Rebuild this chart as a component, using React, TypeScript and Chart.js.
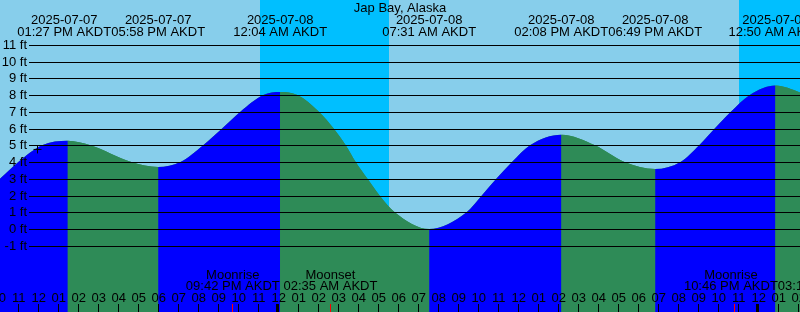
import React, { useEffect, useRef } from 'react';
import { Chart, registerables } from 'chart.js';

Chart.register(...registerables);

// ---- data (hours relative to 2025-07-08 00:00 AKDT, heights in feet) ----
const chartTitle = 'Jap Bay, Alaska';

const tideHours = [
  -14.24, -13.94, -13.025, -11.84, -10.55, -9.42, -7.37, -6.0333,
  -4.915, -3.78, -2.835, -1.92, -0.775, 0.0667, 0.93, 2.005, 2.745,
  3.345, 3.845, 4.435, 5.04, 5.795, 7.5167, 9.39, 10.15, 10.875,
  11.66, 12.56, 14.1333, 15.81, 17.285, 18.8167, 20.085, 21.02,
  21.795, 22.605, 23.55, 24.8333, 26.06, 26.66,
];
const tideFeet = [
  2.67, 3.0, 4.0, 5.0, 5.27, 5.0, 4.0, 3.7,
  4.0, 5.0, 6.0, 7.0, 8.0, 8.18, 8.0, 7.0, 6.0,
  5.0, 4.0, 3.0, 2.0, 1.0, 0.0, 1.0, 2.0, 3.0,
  4.0, 5.0, 5.63, 5.0, 4.0, 3.58, 4.0, 5.0,
  6.0, 7.0, 8.0, 8.56, 8.15, 7.85,
];

const extremeHours = [-10.55, -6.0333, 0.0667, 7.5167, 14.1333, 18.8167, 24.8333];
const extremeDates = ['2025-07-07', '2025-07-07', '2025-07-08', '2025-07-08', '2025-07-08', '2025-07-08', '2025-07-09'];
const extremeTimes = ['01:27 PM AKDT', '05:58 PM AKDT', '12:04 AM AKDT', '07:31 AM AKDT', '02:08 PM AKDT', '06:49 PM AKDT', '12:50 AM AKDT'];

const moonHours = [-2.3, 2.5833, 22.7667, 27.3];
const moonEvents = ['Moonrise', 'Moonset', 'Moonrise', 'Moonset'];
const moonTimes = ['09:42 PM AKDT', '02:35 AM AKDT', '10:46 PM AKDT', '03:18 AM AKDT'];

const nightStarts = [-0.93, 23.02];
const nightEnds = [5.52, 29.5];

const nowHours = [-12.065];
const nowFeet = [4.75];

const yTickValues = [-1, 0, 1, 2, 3, 4, 5, 6, 7, 8, 9, 10, 11];
const yTickLabels = ['-1 ft', '0 ft', '1 ft', '2 ft', '3 ft', '4 ft', '5 ft', '6 ft', '7 ft', '8 ft', '9 ft', '10 ft', '11 ft'];
const hourTickFirst = -14;
const hourTickLast = 26;

// ---- style ----
const X_MIN = -13.94;
const X_MAX = 26.06;
const Y_MAX = 229 / 16.75;
const Y_MIN = Y_MAX - 312 / 16.75;
const RISING = '#0000ff';
const FALLING = '#2e8b57';
const DAY = '#87ceeb';
const NIGHT = '#00bfff';
const FONT = '13px "Liberation Sans", Arial, sans-serif';

function pushLeft(centers: number[], widths: number[]): number[] {
  const out = centers.slice();
  for (let i = out.length - 2; i >= 0; i--) {
    const right = out[i] + widths[i] / 2;
    const nextLeft = out[i + 1] - widths[i + 1] / 2;
    if (right > nextLeft) out[i] -= right - nextLeft;
  }
  return out;
}

const backgroundPlugin = {
  id: 'dayNight',
  beforeDraw(chart: any) {
    const { ctx, scales } = chart;
    const x = scales.x;
    ctx.save();
    ctx.fillStyle = DAY;
    ctx.fillRect(0, 0, chart.width, chart.height);
    ctx.fillStyle = NIGHT;
    for (let i = 0; i < nightStarts.length; i++) {
      const a = Math.round(x.getPixelForValue(nightStarts[i]));
      const b = Math.round(x.getPixelForValue(nightEnds[i]));
      ctx.fillRect(a, 0, b - a, chart.height);
    }
    ctx.restore();
  },
};

const overlayPlugin = {
  id: 'tideOverlay',
  afterDatasetsDraw(chart: any) {
    const { ctx, scales } = chart;
    const x = scales.x;
    const y = scales.y;
    const W = chart.width;
    ctx.save();
    ctx.font = FONT;
    ctx.fillStyle = '#000';

    // horizontal grid lines + labels
    const gridLeft = 29;
    ctx.textAlign = 'right';
    ctx.textBaseline = 'alphabetic';
    for (let i = 0; i < yTickValues.length; i++) {
      const row = Math.round(y.getPixelForValue(yTickValues[i]) + 1e-6);
      ctx.fillRect(gridLeft, row, W - gridLeft, 1);
      ctx.fillText(yTickLabels[i], 27, row + 4);
    }

    // title
    ctx.textAlign = 'center';
    ctx.fillText(chartTitle, W / 2, 12);

    // tide extreme labels
    const exW = extremeTimes.map((t, i) => Math.max(ctx.measureText(t).width, ctx.measureText(extremeDates[i]).width));
    const exC = pushLeft(extremeHours.map((h) => x.getPixelForValue(h)), exW);
    for (let i = 0; i < extremeHours.length; i++) {
      ctx.fillText(extremeDates[i], exC[i], 24);
      ctx.fillText(extremeTimes[i], exC[i], 36);
    }

    // moon labels
    const mW = moonTimes.map((t, i) => Math.max(ctx.measureText(t).width, ctx.measureText(moonEvents[i]).width));
    const mC = pushLeft(moonHours.map((h) => x.getPixelForValue(h)), mW);
    for (let i = 0; i < moonHours.length; i++) {
      ctx.fillText(moonEvents[i], mC[i], 279);
      ctx.fillText(moonTimes[i], mC[i], 290);
    }

    // hour ticks and labels
    for (let h = hourTickFirst; h <= hourTickLast; h++) {
      const px = x.getPixelForValue(h);
      const col = Math.floor(px);
      const clock = ((h % 12) + 12) % 12;
      const label = String(clock === 0 ? 12 : clock).padStart(2, '0');
      ctx.fillStyle = '#000';
      ctx.fillText(label, px, 302);
      const isMidnight = ((h % 24) + 24) % 24 === 0;
      if (isMidnight) ctx.fillRect(col - 2, 304, 3, 8);
      else ctx.fillRect(col, 304, 1, 8);
    }
    ctx.fillStyle = '#ff0000';
    for (let i = 0; i < moonHours.length; i++) {
      const col = Math.floor(x.getPixelForValue(moonHours[i]));
      ctx.fillRect(col, 304, 1, 8);
    }
    ctx.restore();
  },
};

export default function App() {
  const ref = useRef<HTMLCanvasElement>(null);
  useEffect(() => {
    document.body.style.margin = '0';
    const canvas = ref.current;
    if (!canvas) return;
    const tidePoints = tideHours.map((h, i) => ({ x: h, y: tideFeet[i] }));
    const chart = new Chart(canvas, {
      type: 'line',
      data: {
        datasets: [
          {
            type: 'scatter',
            data: nowHours.map((h, i) => ({ x: h, y: nowFeet[i] })),
            pointStyle: 'cross',
            pointRadius: 4,
            hoverRadius: 4,
            borderColor: '#000',
            backgroundColor: '#000',
            borderWidth: 1,
            showLine: false,
            order: 1,
          } as any,
          {
            type: 'line',
            data: tidePoints,
            fill: 'start',
            backgroundColor: RISING,
            borderColor: 'rgba(0,0,0,0)',
            borderWidth: 0,
            pointRadius: 0,
            hoverRadius: 0,
            cubicInterpolationMode: 'monotone',
            segment: {
              backgroundColor: (c: any) => (c.p1.parsed.y >= c.p0.parsed.y ? RISING : FALLING),
            },
            order: 2,
          } as any,
          {
            // underlay (same tide series) so clip seams between rising/falling fills don't show the sky
            type: 'line',
            data: tidePoints,
            fill: 'start',
            backgroundColor: FALLING,
            borderColor: 'rgba(0,0,0,0)',
            borderWidth: 0,
            pointRadius: 0,
            hoverRadius: 0,
            cubicInterpolationMode: 'monotone',
            order: 3,
          } as any,
        ],
      },
      options: {
        responsive: false,
        animation: false,
        devicePixelRatio: 1,
        events: [],
        layout: { padding: 0, autoPadding: false },
        scales: {
          x: { type: 'linear', min: X_MIN, max: X_MAX, display: false },
          y: { type: 'linear', min: Y_MIN, max: Y_MAX, display: false },
        },
        plugins: {
          legend: { display: false },
          title: { display: false },
          tooltip: { enabled: false },
        },
      } as any,
      plugins: [backgroundPlugin, overlayPlugin],
    });
    return () => chart.destroy();
  }, []);
  return (
    <div style={{ position: 'fixed', left: 0, top: 0, width: 800, height: 312 }}>
      <canvas ref={ref} width={800} height={312} style={{ display: 'block', width: 800, height: 312 }} />
    </div>
  );
}
